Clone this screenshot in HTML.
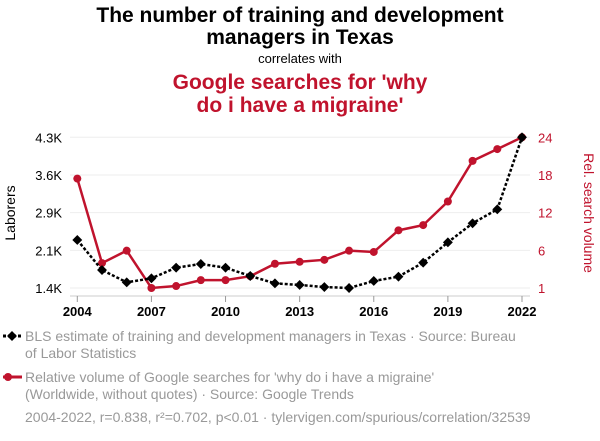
<!DOCTYPE html>
<html><head><meta charset="utf-8"><style>
body{margin:0;background:#fff;width:600px;height:436px;overflow:hidden;font-family:"Liberation Sans",sans-serif}
</style></head><body>
<svg width="600" height="436" xmlns="http://www.w3.org/2000/svg" style="font-family:'Liberation Sans',sans-serif">
<text x="300" y="22" text-anchor="middle" font-size="21" font-weight="bold" fill="#000">The number of training and development</text>
<text x="300" y="44" text-anchor="middle" font-size="21" font-weight="bold" fill="#000">managers in Texas</text>
<text x="300" y="63" text-anchor="middle" font-size="13" fill="#000">correlates with</text>
<text x="300" y="89" text-anchor="middle" font-size="21" font-weight="bold" fill="#c0132d">Google searches for 'why</text>
<text x="300" y="112" text-anchor="middle" font-size="21" font-weight="bold" fill="#c0132d">do i have a migraine'</text>
<g id="grid"></g>
<g id="axes"></g>
<g id="series"></g>
<text transform="translate(15,213) rotate(-90)" text-anchor="middle" font-size="14" fill="#000">Laborers</text>
<text transform="translate(584,213) rotate(90)" text-anchor="middle" font-size="14" fill="#c0132d">Rel. search volume</text>
<g>
<line x1="3" y1="336" x2="22" y2="336" stroke="#000" stroke-width="3" stroke-dasharray="3,2"/>
<rect x="8.5" y="332.5" width="7" height="7" transform="rotate(45 12 336)" fill="#000"/>
<text x="25" y="341" font-size="14" fill="#999">BLS estimate of training and development managers in Texas · Source: Bureau</text>
<text x="25" y="358" font-size="14" fill="#999">of Labor Statistics</text>
</g>
<g>
<line x1="3" y1="377" x2="22" y2="377" stroke="#c0132d" stroke-width="3"/>
<circle cx="8" cy="377" r="4" fill="#c0132d"/>
<text x="25" y="382" font-size="14" fill="#999">Relative volume of Google searches for 'why do i have a migraine'</text>
<text x="25" y="399" font-size="14" fill="#999">(Worldwide, without quotes) · Source: Google Trends</text>
</g>
<text x="25" y="422" font-size="14" fill="#999">2004-2022, r=0.838, r²=0.702, p&lt;0.01 · tylervigen.com/spurious/correlation/32539</text>
</svg>
<script>
const years=[2004,2005,2006,2007,2008,2009,2010,2011,2012,2013,2014,2015,2016,2017,2018,2019,2020,2021,2022];
const laborers=[2324,1746,1509,1586,1791,1862,1791,1631,1490,1458,1419,1400,1535,1618,1888,2279,2645,2914,4300];
const searches=[17.7,4.8,6.7,1,1.3,2.2,2.2,2.8,4.7,5.0,5.3,6.7,6.5,9.8,10.6,14.2,20.4,22.2,24];
const leftTicks=[1400,2125,2850,3575,4300];
const leftTickLabels=["1.4K","2.1K","2.9K","3.6K","4.3K"];
const rightTicks=[1,6.75,12.5,18.25,24];
const rightTickLabels=["1","6","12","18","24"];
const xTicks=[2004,2007,2010,2013,2016,2019,2022];
const NS="http://www.w3.org/2000/svg";
const X0=77.3,X1=522,YB=288,YT=137.3;
const xs=y=>X0+(y-2004)/(2022-2004)*(X1-X0);
const yl=v=>YB-(v-1400)/(4300-1400)*(YB-YT);
const yr=v=>YB-(v-1)/(24-1)*(YB-YT);
function mk(tag,attrs,parent){const e=document.createElementNS(NS,tag);for(const k in attrs)e.setAttribute(k,attrs[k]);parent.appendChild(e);return e;}
const grid=document.getElementById('grid'),axes=document.getElementById('axes'),series=document.getElementById('series');
leftTicks.forEach((t,i)=>{
  const g=mk('line',{x1:70,x2:530,y1:yl(t),y2:yl(t),stroke:'#eee','stroke-width':1},grid);
  
  
  const tx=mk('text',{x:62,y:yl(t)+5,'text-anchor':'end','font-size':13,fill:'#000'},axes);
  tx.textContent=leftTickLabels[i];
  
  
});
rightTicks.forEach((t,i)=>{
  const tx=mk('text',{x:538,y:yr(t)+5,'text-anchor':'start','font-size':13,fill:'#c0132d'},axes);
  tx.textContent=rightTickLabels[i];
  
  
});
const ax=mk('line',{x1:70,x2:530,y1:296,y2:296,stroke:'#ccc','stroke-width':1},axes);


xTicks.forEach(t=>{
  const tk=mk('line',{x1:xs(t),x2:xs(t),y1:296,y2:302,stroke:'#999'},axes);
  
  
  const tx=mk('text',{x:xs(t),y:316,'text-anchor':'middle','font-size':13,'font-weight':'bold',fill:'#000'},axes);
  tx.textContent=t;
  
  
});
const rl=mk('polyline',{points:years.map((y,i)=>xs(y)+','+yr(searches[i])).join(' '),fill:'none',stroke:'#c0132d','stroke-width':2.5},series);


years.forEach((y,i)=>{
  const c=mk('circle',{cx:xs(y),cy:yr(searches[i]),r:4,fill:'#c0132d'},series);
  
  
});
const bl=mk('polyline',{points:years.map((y,i)=>xs(y)+','+yl(laborers[i])).join(' '),fill:'none',stroke:'#000','stroke-width':2.5,'stroke-dasharray':'3,2'},series);


years.forEach((y,i)=>{
  const cx=xs(y),cy=yl(laborers[i]);
  const d=mk('rect',{x:cx-3.5,y:cy-3.5,width:7,height:7,transform:`rotate(45 ${cx} ${cy})`,fill:'#000'},series);
  
  
});
</script>
</body></html>
